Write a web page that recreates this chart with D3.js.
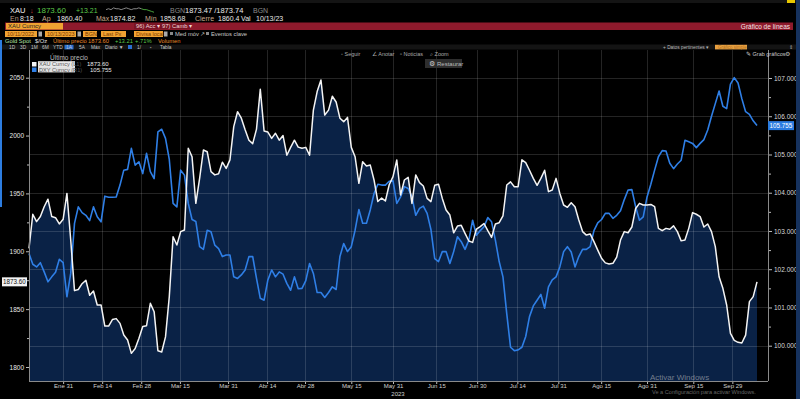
<!DOCTYPE html>
<html><head><meta charset="utf-8">
<script src="https://cdn.jsdelivr.net/npm/d3@7"></script>
<style>html,body{margin:0;padding:0;background:#000;overflow:hidden}svg{display:block}text{font-family:"Liberation Sans",Arial,sans-serif}</style>
</head><body>
<script>
// ---------- DATA ----------
const tickLabels = ["Ene 31","Feb 14","Feb 28","Mar 15","Mar 31","Abr 14","Abr 28","May 15","May 31","Jun 15","Jun 30","Jul 14","Jul 31","Ago 15","Ago 31","Sep 15","Sep 29"];
const tickPos = [9,19.3,29.6,39.8,52.5,62.8,72.8,85,96,107.4,118.2,128.8,139.6,150.9,163,175.2,185.5];
const gold = [
1902.5,1932,1925.6,1930,1938.5,1945,1930,1929,1923.6,1927.6,
1950,1910,1866,1867,1872,1875,1862,1865.7,1853.6,1853.6,
1835.4,1835.4,1841,1841.8,1837.7,1827.6,1823.3,1811.8,1816,1824.8,
1835,1835.7,1855,1847.8,1814,1813,1826,1860.8,1912.6,1905.4,
1917,1918.4,1989,1981.7,1941.4,1963,
1987.5,1986,1968.8,1966,1967,1977,1971.6,1979,2007.7,2020.6,
2015,2005,1996,1993,2005.6,2040,2004,2003,1997.6,2002,
1996,2000,1983,1989.8,1996,1990,1989,1989.8,1983,2022,
2038,2048,2017.7,2022,2034,2029,2015,2012,2015.7,1989.8,
1981.7,1958.7,1977.4,1973.7,1974.5,1961.6,1943,1946,1943.5,1957.5,
1964.5,1978.9,1948.6,1961.6,1963.9,1941.4,1966,1959.3,1956.4,1945.7,
1942.9,1957,1958,1945.7,1935.7,1931.3,1916,1921.8,1922.4,1915.5,
1908.9,1907.7,1919.2,1921.3,1924,1917.8,1912,1923.6,1924.7,1930.5,
1957.3,1960,1955.8,1955.8,1979,1976.6,1970,1963,1957,1963,
1970,1951.5,1953,1963,1950,1940,1938,1942,
1938.5,1927,1917,1914,1915,1908.3,1901,1894,1890,1889,
1889.6,1895,1909.7,1917,1916,1921,1937,1941.4,1940,1940,
1940.5,1938.5,1919.8,1917.8,1919.8,1919,1922,1917,1909,1909.7,
1919.8,1933.4,1932,1930,1921,1923.6,1917,1904,1878,1868,
1853.6,1829,1823,1821.3,1820.7,1827.6,1856.5,1860.8,1873.6];
const dxy = [
102.41,102.13,102.06,102.17,101.93,101.67,101.80,101.92,102.26,102.17,
101.28,101.89,103.20,103.63,103.48,103.41,103.27,103.63,103.37,103.24,
103.91,103.88,103.88,103.89,104.20,104.59,104.61,105.16,104.72,104.81,
104.50,105.03,104.55,104.37,105.59,105.66,105.42,104.87,103.72,103.63,
104.59,104.46,103.72,103.30,103.25,102.59,
102.52,103.02,102.98,102.63,102.54,102.33,102.37,102.37,101.80,101.76,
101.85,101.98,102.33,102.33,101.76,101.24,101.19,101.72,101.98,101.80,
101.93,101.87,101.63,101.45,101.80,101.49,101.50,101.70,102.15,101.89,
101.39,101.39,101.26,101.39,101.54,101.47,102.33,102.67,102.46,102.59,
103.02,103.56,103.20,103.20,103.55,103.98,104.22,104.20,104.20,104.30,
104.31,103.72,103.89,104.16,104.11,103.89,103.41,103.59,103.65,103.46,
103.04,102.28,102.20,102.46,102.46,102.15,102.46,102.85,102.72,102.52,
102.76,103.28,102.89,103.01,103.11,103.35,103.24,102.76,102.20,101.80,
100.84,99.96,99.87,99.89,99.96,100.24,100.76,101.04,101.19,101.34,
100.98,101.54,101.72,101.80,102.06,102.46,102.59,102.45,
102.06,102.33,102.52,102.52,102.59,103.01,103.21,103.30,103.46,103.46,
103.33,103.41,103.53,103.82,104.07,104.08,103.63,103.28,103.37,103.89,
104.22,104.59,104.94,105.10,105.09,104.77,104.63,104.75,104.85,105.37,
105.33,105.29,105.18,105.29,105.39,105.64,106.00,106.33,106.66,106.26,
106.20,106.84,107.01,106.87,106.46,106.12,106.05,105.88,105.755];
const goldTicks = [1800,1850,1900,1950,2000,2050];
const goldMinor = [1825,1875,1925,1975,2025];
const dxyTicks = [100,101,102,103,104,105,106,107];
const dxyMinor = [100.5,101.5,102.5,103.5,104.5,105.5,106.5];
const sparkVals = [5,6,5,7,6,6,5,6,7,6,5,6,6,7,6,5,5,4,3,2];

// ---------- SETUP ----------
const W=800,H=399;
const svg = d3.select("body").append("svg").attr("width",W).attr("height",H);
svg.append("rect").attr("width",W).attr("height",H).attr("fill","#000");
const P = {left:29,right:768,top:50,bottom:381,dataRight:757};
const x = d3.scaleLinear().domain([0,gold.length-1]).range([P.left,P.dataRight]);
const yL = d3.scaleLinear().domain([1800,2050]).range([367,77.7]);
const yR = d3.scaleLinear().domain([100,107]).range([345.7,78]);

function T(px,py,s,fill,size,anchor,weight){
  return svg.append("text").attr("x",px).attr("y",py).text(s).attr("fill",fill)
    .attr("font-size",size||6.5).attr("text-anchor",anchor||"start").attr("font-weight",weight||"normal");
}
function R(px,py,w,h,fill){return svg.append("rect").attr("x",px).attr("y",py).attr("width",w).attr("height",h).attr("fill",fill);}

// ---------- PLOT ----------
const area = d3.area().x((d,i)=>x(i)).y0(P.bottom).y1(d=>yL(d));
svg.append("path").datum(gold).attr("d",area).attr("fill","#0a2246");

const grid = svg.append("g").attr("stroke","rgba(255,255,255,0.14)").attr("stroke-width",1);
dxyTicks.forEach(v=>grid.append("line").attr("x1",P.left).attr("x2",P.right).attr("y1",Math.round(yR(v))+0.5).attr("y2",Math.round(yR(v))+0.5));
tickPos.forEach(v=>grid.append("line").attr("y1",P.top).attr("y2",P.bottom).attr("x1",Math.round(x(v))+0.5).attr("x2",Math.round(x(v))+0.5));

const lineG = d3.line().x((d,i)=>x(i)).y(d=>yL(d));
const lineR = d3.line().x((d,i)=>x(i)).y(d=>yR(d));
svg.append("path").datum(dxy).attr("d",lineR).attr("fill","none").attr("stroke","#2f7fe6").attr("stroke-width",1.6).attr("stroke-linejoin","round");
svg.append("path").datum(gold).attr("d",lineG).attr("fill","none").attr("stroke","#f4f4f4").attr("stroke-width",1.5).attr("stroke-linejoin","round");

// axis frame lines
svg.append("line").attr("x1",P.left+0.5).attr("x2",P.left+0.5).attr("y1",P.top).attr("y2",P.bottom).attr("stroke","#8a8a8a");
svg.append("line").attr("x1",P.right+0.5).attr("x2",P.right+0.5).attr("y1",P.top).attr("y2",P.bottom).attr("stroke","#8a8a8a");
svg.append("line").attr("x1",P.left).attr("x2",P.right).attr("y1",P.bottom+0.5).attr("y2",P.bottom+0.5).attr("stroke","#8a8a8a");

function styleAxis(g,col,fs){
  g.select(".domain").remove();
  g.selectAll("line").attr("stroke","#bbb");
  g.selectAll("text").attr("fill",col).attr("font-size",fs||6.5).attr("font-family","Liberation Sans, Arial, sans-serif");
}
const axL = svg.append("g").attr("transform",`translate(${P.left},0)`).call(d3.axisLeft(yL).tickValues(goldTicks).tickSize(3).tickPadding(2).tickFormat(d3.format("d")));
styleAxis(axL,"#e8e8e8");
const axL2 = svg.append("g").attr("transform",`translate(${P.left},0)`).call(d3.axisLeft(yL).tickValues(goldMinor).tickSize(2).tickFormat(""));
styleAxis(axL2,"#e8e8e8");
const axR = svg.append("g").attr("transform",`translate(${P.right+1},0)`).call(d3.axisRight(yR).tickValues(dxyTicks).tickSize(3).tickPadding(2).tickFormat(d3.format(".3f")));
styleAxis(axR,"#d8d8d8");
const axR2 = svg.append("g").attr("transform",`translate(${P.right+1},0)`).call(d3.axisRight(yR).tickValues(dxyMinor).tickSize(2).tickFormat(""));
styleAxis(axR2,"#d8d8d8");
const axB = svg.append("g").attr("transform",`translate(0,${P.bottom+1})`).call(d3.axisBottom(x).tickValues(tickPos).tickSize(2).tickPadding(0).tickFormat((d,i)=>tickLabels[i]));
styleAxis(axB,"#d0d0d0",6);
T(398,395.5,"2023","#d0d0d0",6,"middle");

// value tags
const gl = gold[gold.length-1], dl = dxy[dxy.length-1];
R(2,yL(gl)-4.5,25,9,"#f2f2f2");
T(14.5,yL(gl)+2.3,d3.format(".2f")(gl),"#111",6.3,"middle");
R(768,yR(dl)-4.5,26,9,"#2a7be0");
T(781,yR(dl)+2.3,d3.format(".3f")(dl),"#fff",6.3,"middle");

// legend
T(69,59.5,"Último precio","#bdbdbd",6.5,"middle");
R(32,62,4.5,4.5,"#f4f4f4");
R(38,61.2,37,5.8,"#e8e8e8");
T(39,66,"XAU Curncy   (L1)","#555",5.6);
T(87,66,d3.format(".2f")(gl),"#e8e8e8",6);
R(32,67.5,4.5,4.5,"#2f7fe6");
R(38,66.8,37,5.6,"#e0e0e0");
T(39,71.5,"DXY Curncy   (R1)","#555",5.6);
T(90,71.8,d3.format(".3f")(dl),"#e8e8e8",6);

// Restaurar button
R(425,59,37,9,"#2e2e2e");
T(429,66,"⚙","#ccc",6.5);
T(437,66,"Restaurar","#bbb",6);

// ---------- HEADER CHROME ----------
R(0,0,800,3,"#141414");
R(787,0,8,3,"#e8c800");
T(10,13,"XAU","#f0f0f0",7.5);
T(30,13,"↓","#d04040",7);
T(37,13,"1873.60","#5cc84a",8);
T(76,13,"+13.21","#5cc84a",7);
const sx = d3.scaleLinear().domain([0,sparkVals.length-1]).range([106,154]);
const sy = d3.scaleLinear().domain([0,8]).range([14,7]);
svg.append("path").datum(sparkVals.slice(0,15)).attr("d",d3.line().x((d,i)=>sx(i)).y(d=>sy(d))).attr("fill","none").attr("stroke","#aaa").attr("stroke-width",0.8);
svg.append("path").datum(sparkVals.slice(14)).attr("d",d3.line().x((d,i)=>sx(i+14)).y(d=>sy(d))).attr("fill","none").attr("stroke","#5cc84a").attr("stroke-width",0.8);
T(170,13,"BGN","#8a8a8a",7);
T(185,13,"1873.47 /1873.74","#e8e8e8",7.5);
T(253,13,"BGN","#8a8a8a",7);

const lab="#c9a98c";
T(10,20.5,"En","#b89a80",7); T(20,20.5,"8:18","#e8e8e8",7);
T(42,20.5,"Ap",lab,7); T(57,20.5,"1860.40","#e8e8e8",7);
T(96,20.5,"Máx",lab,7); T(110,20.5,"1874.82","#e8e8e8",7);
T(145,20.5,"Mín",lab,7); T(160,20.5,"1858.68","#e8e8e8",7);
T(195,20.5,"Cierre",lab,7); T(218,20.5,"1860.4","#e8e8e8",7);
T(241,20.5,"Val","#e8e8e8",7); T(256,20.5,"10/13/23","#e8e8e8",7);

R(5,22.5,788,7.5,"#8e1a2c");
R(6,23,57,6.5,"#f0a232");
T(8,28.3,"XAU Curncy","#222",6);
R(134,23.2,24,6,"#7a1424"); T(136,28.3,"96) Acc ▾","#f0d8d8",5.8);
R(160,23.2,30,6,"#7a1424"); T(162,28.3,"97) Camb ▾","#f0d8d8",5.8);
T(790,28.5,"Gráfico de líneas","#f4e4e4",6.5,"end");

const ob="#f0a232";
R(5,31,32,6,ob); T(7,35.8,"10/11/2022","#7a3a00",5.5);
R(38.5,31.5,3.5,5,"#aaa");
R(45,31,31,6,ob); T(47,35.8,"10/13/2023","#7a3a00",5.5);
R(77.5,31.5,3.5,5,"#aaa");
R(83,31,14,6,ob); T(85,35.8,"BGN","#7a3a00",5.5);
R(101,31,25,6,ob); T(103,35.8,"Last Px","#7a3a00",5.5);
R(134,31,29,6,ob); T(136,35.8,"Divisa local","#7a3a00",5.5);
R(164,31.5,3.5,5,"#aaa");
R(170,32,3,3,"#888"); T(175,36,"Med móv ↗","#c8c8c8",5.8);
R(206,32,3,3,"#888"); T(211,36,"Eventos clave","#c8c8c8",5.8);

T(5,43,"Gold Spot","#b8e0a8",5.8);
T(35,43,"$/Oz","#e0e0e0",5.8);
T(53,43,"Último precio","#e88a2a",5.8);
T(88,43,"1873.60","#e88a2a",5.8);
T(115,43,"+13.21","#5cc84a",5.8);
T(135,43,"+.71%","#5cc84a",5.8);
T(158,43,"Volumen","#e88a2a",5.8);

R(0,44.5,800,5,"#141414");
const rng=[["1D",9],["3D",20],["1M",31],["6M",42],["YTD",53],["1A",66],["5A",79],["Máx",91],["Diario ▼",105]];
R(64.5,44.8,9,4.6,"#2a6fd0");
rng.forEach(r=>T(r[1],48.9,r[0],"#c8c8c8",4.8));
R(128,45,4,4,"#2a6fd0"); T(137,48.9,"1/","#c8c8c8",4.8); T(150,48.9,"▪","#888",4.8); T(160,48.9,"Tabla","#c8c8c8",4.8);
T(663,48.9,"+ Datos pertinentes ▾","#b8b8b8",4.8);
R(715,44.8,32,4.6,"#e8a040"); T(718,48.8,"Gráfico simple","#b07020",4.5);
T(789,48.9,"⇕","#aaa",5);

T(341,56,"◦ Seguir","#aaa",5.5);
T(372,56,"∠ Anotar","#aaa",5.5);
T(400,56,"▫ Noticias","#aaa",5.5);
T(430,56,"⌕ Zoom","#aaa",5.5);
T(746,56,"✎ Grab gráficos","#c8c8c8",5.5);
T(785,56,"⚙","#bbb",5.5);

// side bars
R(0,40,2,167,"#2d7de0");
R(796,0,4,399,"#16325e");

// watermark
T(650,379.5,"Activar Windows","rgba(200,200,200,0.55)",8);
T(652,394,"Ve a Configuración para activar Windows.","rgba(200,200,200,0.5)",5.6);
</script>
</body></html>
